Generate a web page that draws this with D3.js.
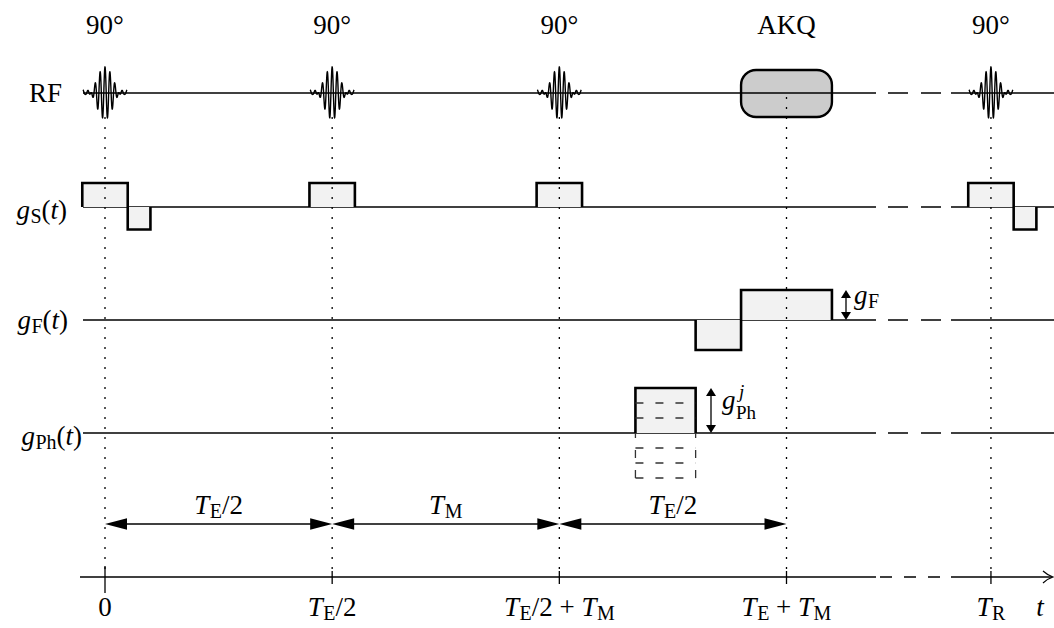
<!DOCTYPE html>
<html>
<head>
<meta charset="utf-8">
<script src="https://cdn.jsdelivr.net/npm/d3@7"></script>
<style>
  html, body { margin: 0; padding: 0; background: #fff; }
  svg text { font-family: "Liberation Serif", "DejaVu Serif", serif; fill: #000; white-space: pre; }
</style>
</head>
<body>
<svg id="chart" width="1054" height="628"></svg>
<script>
// ---- sequence timing (time unit: T_E/2 = T_M = 10) ----
const rfTimes  = [0, 10, 20, 39];
const rfLabels = ["90°", "90°", "90°", "90°"];
const acqWindow = [28, 32];
const acqLabel  = "AKQ";
const echoTime  = 30;
const seqBreak  = [33.94, 37.24];

// gradient lobes: [start, end, amplitude]
const sliceLobes = [[-1, 1, 1.6], [1, 2, -1.5], [9, 11, 1.6], [19, 21, 1.6], [38, 40, 1.6], [40, 41, -1.5]];
const readLobes  = [[26, 28, -2], [28, 32, 2]];
const phaseLobe  = [23.35, 26];
const phaseSteps = [1, 2, 3];

// interval arrows and their labels
const intervals = [[0, 10], [10, 20], [20, 30]];
const intervalLabels = [
  [{s: "T", i: 1}, {s: "E", sub: 1}, {s: "/2"}],
  [{s: "T", i: 1}, {s: "M", sub: 1}],
  [{s: "T", i: 1}, {s: "E", sub: 1}, {s: "/2"}]
];

// time axis ticks
const tickTimes = [0, 10, 20, 30, 39];
const tickLabels = [
  [{s: "0"}],
  [{s: "T", i: 1}, {s: "E", sub: 1}, {s: "/2"}],
  [{s: "T", i: 1}, {s: "E", sub: 1}, {s: "/2 + "}, {s: "T", i: 1}, {s: "M", sub: 1}],
  [{s: "T", i: 1}, {s: "E", sub: 1}, {s: " + "}, {s: "T", i: 1}, {s: "M", sub: 1}],
  [{s: "T", i: 1}, {s: "R", sub: 1}]
];

// ---- layout ----
const svg = d3.select("#chart");
const x = d3.scaleLinear().domain([0, 30]).range([105, 786.5]);
const amp = d3.scaleLinear().domain([0, 1]).range([0, 15]);
const row = { rf: 93, gs: 207, gf: 320, gph: 433, axis: 577 };
const xLeft = 83, xRight = 1054;
const FS = 27;

function mathText(parent, px, py, parts, anchor, size) {
  const t = parent.append("text")
    .attr("x", px).attr("y", py)
    .attr("text-anchor", anchor || "middle")
    .style("font-size", size + "px");
  let shift = 0;
  parts.forEach(p => {
    const target = p.sub ? size * 0.15 : (p.sup ? -size * 0.38 : 0);
    const ts = t.append("tspan").text(p.s)
      .style("font-size", (p.sub || p.sup ? size * 0.74 : size) + "px")
      .attr("dy", target - shift);
    if (p.i) ts.style("font-style", "italic");
    if (p.sub) ts.attr("dx", 0.5);
    shift = target;
  });
  return t;
}

function hline(y, x1, x2, dash) {
  const l = svg.append("line")
    .attr("x1", x1).attr("x2", x2).attr("y1", y).attr("y2", y)
    .attr("stroke", "#000").attr("stroke-width", 1.3);
  if (dash) l.attr("stroke-dasharray", dash);
  return l;
}

// row baselines with a break before the repetition
function rowLine(y, dash) {
  hline(y, xLeft, x(seqBreak[0]));
  hline(y, x(seqBreak[0]), x(seqBreak[1]), dash);
  hline(y, x(seqBreak[1]), xRight);
}
rowLine(row.rf,  "0 12 20 13 20 10");
rowLine(row.gs,  "0 12 20 13 20 10");
rowLine(row.gf,  "0 12 20 13 20 10");
rowLine(row.gph, "0 12 20 13 20 10");

// time axis
hline(row.axis, 80, x(seqBreak[0]));
hline(row.axis, x(seqBreak[0]), x(seqBreak[1]), "0 4 12 12 12 12 12 10");
hline(row.axis, x(seqBreak[1]), 1052);
svg.append("path")
  .attr("d", "M1043,571 Q1048,575.5 1053,577 Q1048,578.5 1043,583")
  .attr("fill", "none").attr("stroke", "#000").attr("stroke-width", 1.2);

// gradient lobes
function lobe(y0, t1, t2, a) {
  const x1 = x(t1), x2 = x(t2), y1 = y0 - amp(a);
  svg.append("rect")
    .attr("x", x1).attr("width", x2 - x1)
    .attr("y", Math.min(y0, y1)).attr("height", Math.abs(y1 - y0))
    .attr("fill", "#f2f2f2");
  svg.append("path")
    .attr("d", `M${x1},${y0}L${x1},${y1}L${x2},${y1}L${x2},${y0}`)
    .attr("fill", "none").attr("stroke", "#000").attr("stroke-width", 2.6)
    .attr("stroke-linejoin", "miter");
}
sliceLobes.forEach(d => lobe(row.gs, d[0], d[1], d[2]));
readLobes.forEach(d => lobe(row.gf, d[0], d[1], d[2]));
lobe(row.gph, phaseLobe[0], phaseLobe[1], d3.max(phaseSteps));

// phase-encoding steps (dashed)
const pDash = "8 12";
const px1 = x(phaseLobe[0]), px2 = x(phaseLobe[1]);
phaseSteps.slice(0, -1).forEach(s => {
  hline(row.gph - amp(s), px1, px2, pDash).attr("stroke", "#333");
});
phaseSteps.forEach(s => {
  hline(row.gph + amp(s), px1, px2, pDash).attr("stroke", "#333");
});
[px1, px2].forEach(xx => {
  svg.append("line")
    .attr("x1", xx).attr("x2", xx)
    .attr("y1", row.gph + amp(d3.max(phaseSteps))).attr("y2", row.gph)
    .attr("stroke", "#333").attr("stroke-width", 1.3)
    .attr("stroke-dasharray", pDash);
});

// RF excitation pulses (sinc envelope)
const pulseHalf = 22, pulseAmp = 26;
const pulseLine = d3.line();
rfTimes.forEach(t => {
  const cx = x(t);
  const pts = d3.range(-1, 1.0001, 0.003).map(u => {
    const a = 1.55 * Math.PI * u;
    const env = Math.abs(a) < 1e-9 ? 1 : Math.sin(a) / a;
    const tail = 0.16 * Math.exp(-Math.pow((Math.abs(u) - 0.9) / 0.12, 2));
    return [cx + u * pulseHalf, row.rf - pulseAmp * (env + tail) * Math.cos(2 * Math.PI * 4.5 * u)];
  });
  svg.append("path").attr("d", pulseLine(pts))
    .attr("fill", "none").attr("stroke", "#000").attr("stroke-width", 1.4);
});

// acquisition window
svg.append("rect")
  .attr("x", x(acqWindow[0])).attr("width", x(acqWindow[1]) - x(acqWindow[0]))
  .attr("y", row.rf - 23).attr("height", 47)
  .attr("rx", 15).attr("ry", 15)
  .attr("fill", "#cccccc").attr("stroke", "#000").attr("stroke-width", 2.4);
hline(row.rf, x(acqWindow[0]), x(acqWindow[1]));

// dotted guides
function vDotted(t, y1) {
  svg.append("line")
    .attr("x1", x(t)).attr("x2", x(t)).attr("y1", y1).attr("y2", row.axis)
    .attr("stroke", "#000").attr("stroke-width", 1.3)
    .attr("stroke-dasharray", "2 8");
}
rfTimes.forEach(t => vDotted(t, row.rf + 24));
vDotted(echoTime, row.rf + 4);

// axis ticks and labels
tickTimes.forEach((t, i) => {
  const big = t === 0;
  svg.append("line")
    .attr("x1", x(t)).attr("x2", x(t))
    .attr("y1", big ? row.axis - 11 : row.axis - 6)
    .attr("y2", big ? row.axis + 16 : row.axis + 7)
    .attr("stroke", "#000").attr("stroke-width", 1.3);
  mathText(svg, x(t), 616, tickLabels[i], "middle", FS);
});
mathText(svg, 1040, 616, [{s: "t", i: 1}], "middle", FS);

// interval arrows
const arrowY = 524, headLen = 22, headW = 5.7;
intervals.forEach((d, i) => {
  const a = x(d[0]), b = x(d[1]);
  hline(arrowY, a + 4, b - 4);
  svg.append("path")
    .attr("d", `M${a},${arrowY}L${a + headLen},${arrowY - headW}L${a + headLen},${arrowY + headW}Z` +
               `M${b},${arrowY}L${b - headLen},${arrowY - headW}L${b - headLen},${arrowY + headW}Z`)
    .attr("fill", "#000");
  mathText(svg, (a + b) / 2, 514, intervalLabels[i], "middle", FS);
});

// amplitude markers
function vArrow(xx, yTop, yBot) {
  const hl = 8, hw = 5;
  svg.append("line").attr("x1", xx).attr("x2", xx).attr("y1", yTop + 3).attr("y2", yBot - 3)
    .attr("stroke", "#000").attr("stroke-width", 1.3);
  svg.append("path")
    .attr("d", `M${xx},${yTop}L${xx - hw},${yTop + hl}L${xx + hw},${yTop + hl}Z` +
               `M${xx},${yBot}L${xx - hw},${yBot - hl}L${xx + hw},${yBot - hl}Z`)
    .attr("fill", "#000");
}
vArrow(846, row.gf - amp(readLobes[1][2]), row.gf);
mathText(svg, 854, 304, [{s: "g", i: 1}, {s: "F", sub: 1}], "start", FS);

vArrow(711, row.gph - amp(d3.max(phaseSteps)), row.gph);
mathText(svg, 722, 409, [{s: "g", i: 1}], "start", FS);
mathText(svg, 739, 398, [{s: "j", i: 1}], "start", 19);
mathText(svg, 736, 419, [{s: "Ph"}], "start", 19);

// top labels
rfTimes.forEach((t, i) => {
  svg.append("text").attr("x", x(t)).attr("y", 34)
    .attr("text-anchor", "middle").style("font-size", FS + "px").text(rfLabels[i]);
});
svg.append("text").attr("x", x(echoTime)).attr("y", 34)
  .attr("text-anchor", "middle").style("font-size", FS + "px").text(acqLabel);

// row labels
mathText(svg, 62, 102, [{s: "RF"}], "end", FS);
mathText(svg, 67, 219, [{s: "g", i: 1}, {s: "S", sub: 1}, {s: "("}, {s: "t", i: 1}, {s: ")"}], "end", FS);
mathText(svg, 68, 329, [{s: "g", i: 1}, {s: "F", sub: 1}, {s: "("}, {s: "t", i: 1}, {s: ")"}], "end", FS);
mathText(svg, 82, 445, [{s: "g", i: 1}, {s: "Ph", sub: 1}, {s: "("}, {s: "t", i: 1}, {s: ")"}], "end", FS);
</script>
</body>
</html>
